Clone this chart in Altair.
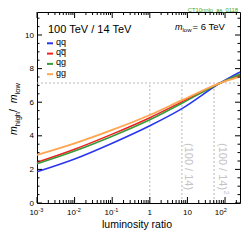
import altair as alt
import pandas as pd

# ---- data ----
lumi = [1e-3, 1e-2, 1e-1, 1.0, 7.14, 74.0, 250.0]
m_qq = [1.86, 2.62, 3.56, 4.60, 5.62, 7.14, 7.80]
m_qqbar = [2.42, 3.20, 4.10, 5.08, 6.02, 7.14, 7.62]
m_qg = [2.34, 3.10, 3.98, 4.96, 5.94, 7.14, 7.68]
m_gg = [2.86, 3.55, 4.35, 5.24, 6.12, 7.14, 7.52]
names = ["qq", "qq\u0305", "qg", "gg"]
colors = ["#2a35f0", "#f02020", "#3a9a3a", "#ffa550"]
widths = [1.6, 1.6, 1.6, 1.8]

ratio = 7.142857
ref_x = [1.0, 7.142857, 51.02]
ref_labels = ["(100 / 14)", "(100 / 14)"]

x_major = [1e-3, 1e-2, 1e-1, 1.0, 10.0, 100.0]
x_label_base = ["10", "10", "10", "1", "10", "10"]
x_label_exp = ["-3", "-2", "-1", "", "", "2"]
x_label_dx = [1.3, 1.3, 1.3, 0, 0, -1.3]
x_minor = [k * d for d in [1e-3, 1e-2, 1e-1, 1.0, 10.0, 100.0] for k in range(2, 10) if k * d <= 250]
y_major = [0, 2, 4, 6, 8, 10]
y_minor = [v * 0.5 for v in range(0, 23) if v % 4 != 0]

W, H = 203, 191
FONT = "Liberation Sans"

xs = alt.Scale(type="log", domain=[1e-3, 250], nice=False)
ys = alt.Scale(domain=[0, 11.37], nice=False, zero=False)
yaxis = alt.Axis(values=y_major, ticks=False, tickSize=0, domain=False, grid=False,
                 labelFontSize=8, labelFont=FONT, labelColor="black", labelPadding=3.5,
                 title=None)

layers = []

# dotted reference lines
layers.append(alt.Chart(pd.DataFrame({"y": [ratio]})).mark_rule(
    color="#b8b8b8", strokeDash=[2, 2], strokeWidth=1).encode(
    y=alt.Y("y:Q", scale=ys, axis=yaxis), x=alt.value(0), x2=alt.value(W)))
layers.append(alt.Chart(pd.DataFrame({"x": ref_x, "y0": [0] * 3, "y1": [ratio] * 3})).mark_rule(
    color="#b8b8b8", strokeDash=[2, 2], strokeWidth=1).encode(
    x=alt.X("x:Q", scale=xs, axis=None), y=alt.Y("y0:Q", scale=ys, axis=yaxis), y2="y1:Q"))

# rotated annotations
for xv, lab, dyv in [(ref_x[1], ref_labels[0], -3), (ref_x[2], ref_labels[1], -5)]:
    layers.append(alt.Chart(pd.DataFrame({"x": [xv]})).mark_text(
        angle=90, align="left", baseline="alphabetic", dy=dyv, fontSize=11,
        font=FONT, color="#c4c4c4").encode(
        x=alt.X("x:Q", scale=xs, axis=None), y=alt.value(131), text=alt.value(lab)))
layers.append(alt.Chart(pd.DataFrame({"x": [ref_x[2]]})).mark_text(
    angle=90, align="left", baseline="alphabetic", dx=47.5, dy=-10, fontSize=7.5,
    font=FONT, color="#c4c4c4").encode(
    x=alt.X("x:Q", scale=xs, axis=None), y=alt.value(131), text=alt.value("2")))

# curves
for name, vals, col, sw in zip(names, [m_qq, m_qqbar, m_qg, m_gg], colors, widths):
    df = pd.DataFrame({"x": lumi, "y": vals})
    layers.append(alt.Chart(df).mark_line(color=col, strokeWidth=sw, interpolate="monotone").encode(
        x=alt.X("x:Q", scale=xs, axis=None), y=alt.Y("y:Q", scale=ys, axis=yaxis)))

# ticks (inward, all four sides)
def xticks(vals, length):
    d = pd.DataFrame({"x": vals})
    out = []
    for y0, y1 in [(H, H - length), (0, length)]:
        out.append(alt.Chart(d).mark_rule(color="black", strokeWidth=1).encode(
            x=alt.X("x:Q", scale=xs, axis=None), y=alt.value(y0), y2=alt.value(y1)))
    return out

def yticks(vals, length):
    d = pd.DataFrame({"y": vals})
    out = []
    for x0, x1 in [(0, length), (W, W - length)]:
        out.append(alt.Chart(d).mark_rule(color="black", strokeWidth=1).encode(
            y=alt.Y("y:Q", scale=ys, axis=yaxis), x=alt.value(x0), x2=alt.value(x1)))
    return out

layers += xticks(x_major, 6) + xticks(x_minor, 3) + yticks(y_major, 5) + yticks(y_minor, 2.5)

# x tick labels with superscripts
for xv, b, e, dxv in zip(x_major, x_label_base, x_label_exp, x_label_dx):
    d = pd.DataFrame({"x": [xv]})
    if e:
        layers.append(alt.Chart(d).mark_text(align="right", baseline="alphabetic", fontSize=8,
                                             font=FONT, color="black", dx=dxv).encode(
            x=alt.X("x:Q", scale=xs, axis=None), y=alt.value(H + 12), text=alt.value(b)))
        layers.append(alt.Chart(d).mark_text(align="left", baseline="alphabetic", fontSize=5.5,
                                             font=FONT, color="black", dx=dxv, dy=-3.4).encode(
            x=alt.X("x:Q", scale=xs, axis=None), y=alt.value(H + 12), text=alt.value(e)))
    else:
        layers.append(alt.Chart(d).mark_text(align="center", baseline="alphabetic", fontSize=8,
                                             font=FONT, color="black").encode(
            x=alt.X("x:Q", scale=xs, axis=None), y=alt.value(H + 12), text=alt.value(b)))

def txt(s, x, y, size, align="left", angle=0, style="normal", color="black", dy=0):
    return alt.Chart(pd.DataFrame({"a": [0]})).mark_text(
        align=align, baseline="alphabetic", fontSize=size, font=FONT, fontStyle=style,
        angle=angle, color=color, dy=dy).encode(
        x=alt.value(x), y=alt.value(y), text=alt.value(s))

# axis titles
layers.append(txt("luminosity ratio", 100, 216, 10.5, align="center"))
ytitle = [("m", 135, 10.5, "italic", 0), ("high", 126.2, 7.5, "normal", 3),
          (" / ", 112, 10.5, "normal", 0), ("m", 103.2, 10.5, "italic", 0),
          ("low", 94.4, 7.5, "normal", 3)]
for s, py, size, st, dyv in ytitle:
    layers.append(txt(s, 17 - 37, py - 12, size, angle=270, style=st, dy=dyv))

# header texts
layers.append(txt("100 TeV / 14 TeV", 11, 21, 11))
layers.append(txt("m", 182.5 - 37, 29.5 - 12, 9, align="right", style="italic"))
layers.append(txt("low", 191.5 - 37, 31.5 - 12, 6, align="right"))
layers.append(txt("= 6 TeV", 192.5 - 37, 29.5 - 12, 9.5))
layers.append(txt("CT10nnlo_as_0118", 238 - 37, 11.6 - 12, 5.8, align="right", color="#33aa33"))

# legend
row_y = [43.3, 53.6, 63.9, 74.2]
for name, col, ry in zip(names, colors, row_y):
    layers.append(alt.Chart(pd.DataFrame({"a": [0]})).mark_rule(color=col, strokeWidth=2).encode(
        x=alt.value(10), x2=alt.value(16), y=alt.value(ry - 12)))
    layers.append(txt(name, 19, ry - 12 + 1.4, 9))

chart = alt.layer(*layers).properties(
    width=W, height=H,
    autosize=alt.AutoSizeParams(type="none"),
    padding={"left": 29, "top": 4, "right": 4, "bottom": 28},
    background="white",
).configure_view(stroke="black", strokeWidth=1)

chart.save("out.html", embed_options={"renderer": "svg", "actions": False})
